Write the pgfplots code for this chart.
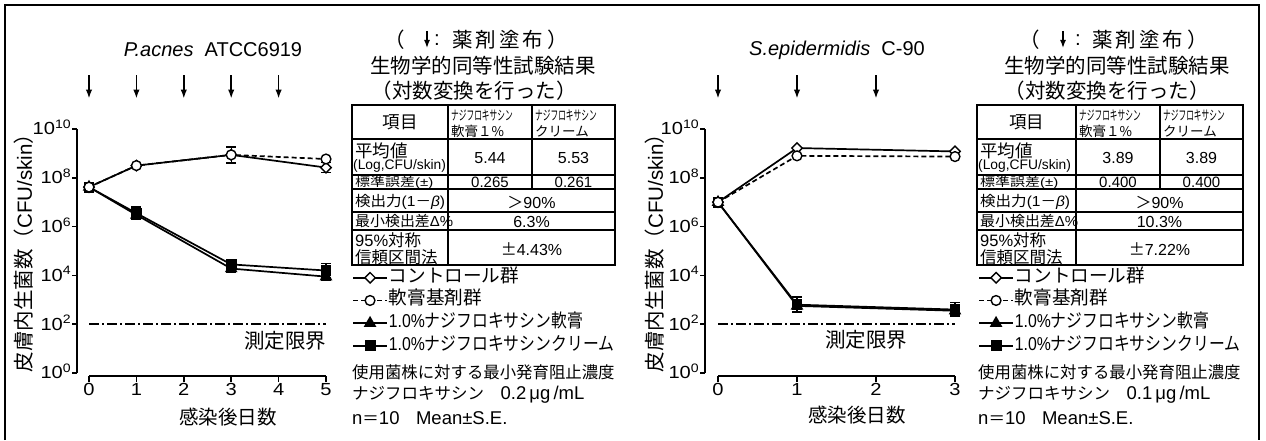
\documentclass[border=0pt]{standalone}
\usepackage{fontspec}
\usepackage{graphicx}
\usepackage{pgfplots}
\pgfplotsset{compat=1.18}
\usetikzlibrary{arrows.meta}
\setmainfont{Liberation Sans}
\newfontfamily\jp{Noto Sans CJK JP}
\newcommand\fs[1]{\fontsize{#1pt}{#1pt}\selectfont}
\newcommand\J[1]{{\jp #1}}
\newcommand\W[1]{\scalebox{1.15}[1]{#1}}

\pgfplotsset{
  ctrl/.style={black, solid, line width=1.7pt, mark=square*, mark size=3.7pt,
     mark options={rotate=45, fill=white, draw=black, solid, line width=1.4pt}},
  base/.style={black, line width=1.7pt, dash pattern=on 5pt off 3pt, mark=*, mark size=4.9pt,
     mark options={fill=white, draw=black, solid, line width=1.4pt}},
  oint/.style={black, solid, line width=1.7pt, mark=triangle*, mark size=5.6pt, mark options={solid}},
  crem/.style={black, solid, line width=1.7pt, mark=square*, mark size=4.6pt, mark options={solid}},
  ebar/.style={error bars/.cd, y dir=both, y explicit,
     error bar style={line width=1.4pt, solid},
     error mark options={rotate=90, mark size=5pt, line width=1.4pt, solid}},
  lim/.style={black, line width=1.5pt, dash pattern=on 10pt off 3pt on 2pt off 3pt, mark=none},
  arr/.style={black, solid, line width=1.5pt, -{Latex[length=9pt,width=6.5pt]}, mark=none},
  dataaxis/.style={scale only axis, clip=false, height=244pt, ymin=0, ymax=10,
     axis x line=none, xtick=\empty, axis y line=left, axis line style={-, line width=1.6pt},
     ytick={0,2,...,10},
     yticklabels={\W{10\textsuperscript{0}},\W{10\textsuperscript{2}},\W{10\textsuperscript{4}},\W{10\textsuperscript{6}},\W{10\textsuperscript{8}},\W{10\textsuperscript{10}}},
     tick style={line width=1.6pt, black}, tick align=outside, major tick length=5pt,
     yticklabel style={font=\fs{17.5}, inner sep=0.5pt, yshift=1.5pt},
     legend cell align=left,
     legend image code/.code={\draw[mark repeat=2,mark phase=2] plot coordinates {(0pt,0pt)(17pt,0pt)(34pt,0pt)};},
     legend style={draw=none, fill=none, anchor=north west, font=\fs{18.6}, inner sep=0pt, row sep=3.7pt,
        nodes={inner sep=1pt, text height=13pt, text depth=4pt}},
  },
  xaxisB/.style={scale only axis, height=10pt, ymin=0, ymax=1, axis x line=bottom, axis y line=none,
     axis line style={-, line width=1.6pt}, tick style={line width=1.6pt, black}, tick align=outside,
     major tick length=6pt, xticklabel style={font=\fs{17.5}, inner sep=1pt},
     /pgf/number format/assume math mode=true},
}

\newcommand\tgrid[4]{%
  \draw[line width=1.4pt] (#1,105) rectangle (#4,265);
  \foreach \r in {139,175,189,212,230} {\draw[line width=1.1pt] (#1,\r) -- (#4,\r);}
  \draw[line width=1.1pt] (#2,105) -- (#2,265);
  \draw[line width=1.1pt] (#3,105) -- (#3,189);
  \node[font=\fs{17.5}\jp] at ({(#1+#2)/2},122) {項目};
  \node[anchor=west, inner sep=0pt, font=\fs{13.5}\jp] at ({#2+3},115) {\scalebox{0.57}[1]{ナジフロキサシン}};
  \node[anchor=west, inner sep=0pt, font=\fs{13.5}\jp] at ({#2+3},131.5) {軟膏１\%};
  \node[anchor=west, inner sep=0pt, font=\fs{13.5}\jp] at ({#3+3},115) {\scalebox{0.57}[1]{ナジフロキサシン}};
  \node[anchor=west, inner sep=0pt, font=\fs{13.5}\jp] at ({#3+3},131.5) {クリーム};
  \node[anchor=west, inner sep=0pt, font=\fs{17.5}\jp] at ({#1+3},151) {平均値};
  \node[anchor=west, inner sep=0pt, font=\fs{13.8}] at ({#1+1},165.5) {(Log,CFU/skin)};
  \node[anchor=west, inner sep=0pt, font=\fs{12}] at ({#1+3},182.5) {\scalebox{1.25}[1]{\J{標準誤差}(±)}};
  \node[anchor=west, inner sep=0pt, font=\fs{14.5}] at ({#1+3},201.5) {\scalebox{1.07}[1]{\J{検出力}(1\J{－}\textit{β})}};
  \node[anchor=west, inner sep=0pt, font=\fs{14.5}] at ({#1+3},221.5) {\scalebox{1.03}[1]{\J{最小検出差}Δ\%}};
  \node[anchor=west, inner sep=0pt, font=\fs{16.5}] at ({#1+3},240) {95\%\J{対称}};
  \node[anchor=west, inner sep=0pt, font=\fs{16.5}\jp] at ({#1+3},257) {信頼区間法};
}
\newcommand\tvals[9]{%
  \node[font=\fs{16}] at (#1,158) {#4};
  \node[font=\fs{16}] at (#2,158) {#5};
  \node[font=\fs{15}] at (#1,182.5) {#6};
  \node[font=\fs{15}] at (#2,182.5) {#7};
  \node[font=\fs{16}] at (#3,202.5) {\J{＞}90\%};
  \node[font=\fs{16}] at (#3,221.5) {#8};
  \node[font=\fs{16}] at (#3,249) {\J{±}#9};
}
% #1 paren box start, #2 arrow x, #3 colon centre, #4 start of 薬
\newcommand\yakutitle[4]{%
  \node[anchor=west, inner sep=0pt, font=\fs{20.5}\jp] at (#1,40) {（};
  \draw[line width=1.4pt, -{Latex[length=8pt,width=6pt]}] (#2,31) -- (#2,48);
  \node[inner sep=0pt, font=\fs{20.5}] at (#3,40) {:};
  \node[anchor=west, inner sep=0pt, font=\fs{20.5}\jp] at (#4,40) {薬\hspace{3pt}剤\hspace{3pt}塗\hspace{3pt}布\hspace{4pt}）};
}

\begin{document}
\begin{tikzpicture}
\fill[white] (0,0) rectangle (1266pt,440pt);

% ---------------- left panel ----------------
\begin{axis}[dataaxis, at={(77pt,67pt)}, anchor=south west, width=249pt, xmin=-0.2532, xmax=5,
   legend style={at={(1.1044,0.430)}}]
\addplot[arr, forget plot, quiver={u=0,v=-0.95}] coordinates {(0,12.2)(1,12.2)(2,12.2)(3,12.2)(4,12.2)};
\addplot[lim, forget plot] coordinates {(0,2)(5,2)};
\addplot[crem, forget plot, ebar] coordinates {(0,7.62) (1,6.55) +- (0,0.25) (3,4.45) +- (0,0.2) (5,4.2) +- (0,0.3)};
\addplot[oint, forget plot, ebar] coordinates {(0,7.62) (1,6.48) +- (0,0.2) (3,4.28) +- (0,0.15) (5,3.95) +- (0,0.15)};
\addplot[ctrl, forget plot, ebar] coordinates {(0,7.62) (1,8.5) (3,8.94) +- (0,0.33) (5,8.42) +- (0,0.2)};
\addplot[base, forget plot] coordinates {(0,7.62) (1,8.5) (3,8.94) (5,8.77)};
\addlegendimage{ctrl}\addlegendentry{\J{コントロール群}}
\addlegendimage{base}\addlegendentry{\J{軟膏基剤群}}
\addlegendimage{oint}\addlegendentry{\scalebox{0.85}[1]{1.0\%\J{ナジフロキサシン軟膏}}}
\addlegendimage{crem}\addlegendentry{\scalebox{0.85}[1]{1.0\%\J{ナジフロキサシンクリーム}}}
\end{axis}
\begin{axis}[xaxisB, at={(89pt,64pt)}, anchor=south west, width=237pt, xmin=0, xmax=5, xtick={0,...,5},
   xticklabels={\W{0},\W{1},\W{2},\W{3},\W{4},\W{5}}]
\addplot[draw=none] coordinates {(0,0.5)};
\end{axis}

% ---------------- right panel ----------------
\begin{axis}[dataaxis, at={(705pt,67pt)}, anchor=south west, width=250pt, xmin=-0.1646, xmax=3,
   legend style={at={(1.092,0.430)}}]
\addplot[arr, forget plot, quiver={u=0,v=-0.95}] coordinates {(0,12.2)(1,12.2)(2,12.2)};
\addplot[lim, forget plot] coordinates {(0,2)(3,2)};
\addplot[crem, forget plot, ebar] coordinates {(0,7.0) (1,2.8) +- (0,0.32) (3,2.6) +- (0,0.28)};
\addplot[oint, forget plot, ebar] coordinates {(0,7.0) (1,2.75) +- (0,0.25) (3,2.55) +- (0,0.2)};
\addplot[ctrl, forget plot] coordinates {(0,7.0) (1,9.22) (3,9.08)};
\addplot[base, forget plot] coordinates {(0,7.0) (1,8.9) (3,8.87)};
\addlegendimage{ctrl}\addlegendentry{\J{コントロール群}}
\addlegendimage{base}\addlegendentry{\J{軟膏基剤群}}
\addlegendimage{oint}\addlegendentry{\scalebox{0.85}[1]{1.0\%\J{ナジフロキサシン軟膏}}}
\addlegendimage{crem}\addlegendentry{\scalebox{0.85}[1]{1.0\%\J{ナジフロキサシンクリーム}}}
\end{axis}
\begin{axis}[xaxisB, at={(718pt,64pt)}, anchor=south west, width=237pt, xmin=0, xmax=3, xtick={0,...,3},
   xticklabels={\W{0},\W{1},\W{2},\W{3}}]
\addplot[draw=none] coordinates {(0,0.5)};
\end{axis}

% ---------------- texts, tables (pixel coordinates, y down) ----------------
\begin{scope}[x=1pt, y=-1pt, yshift=440pt]
\draw[line width=1.5pt] (5,440) -- (5,5) -- (1259,5) -- (1259,440);
% left panel texts
\node[font=\fs{20}] at (213,50) {\textit{P.acnes}\ \ ATCC6919};
\node[font=\fs{20.5}, rotate=90] at (24,248) {\J{皮膚内生菌数（}CFU/skin\J{）}};
\node[font=\fs{19.5}\jp] at (228,417) {感染後日数};
\node[font=\fs{20.5}\jp] at (285,341) {測定限界};
\yakutitle{384}{427}{437}{452}
\node[font=\fs{20.5}\jp] at (483,66) {生物学的同等性試験結果};
\node[font=\fs{20.5}\jp] at (474,91) {（対数変換を行った）};
\tgrid{352}{448}{532}{615}
\tvals{490}{573.5}{531.5}{5.44}{5.53}{0.265}{0.261}{6.3\%}{4.43\%}
\node[anchor=west, inner sep=0pt, font=\fs{16.4}\jp] at (352,372) {使用菌株に対する最小発育阻止濃度};
\node[anchor=west, inner sep=0pt, font=\fs{18.5}] at (352,395) {{\fs{16.5}\jp ナジフロキサシン　}0.2\,μg\,/mL};
\node[anchor=west, inner sep=0pt, font=\fs{18.5}] at (352,418) {n{\fs{16.5}\jp ＝}10{\fs{16.5}\jp 　}Mean±S.E.};
% right panel texts
\node[font=\fs{20}] at (837,50) {\textit{S.epidermidis}\ \ C-90};
\node[font=\fs{20.5}, rotate=90] at (655,248) {\J{皮膚内生菌数（}CFU/skin\J{）}};
\node[font=\fs{19.5}\jp] at (857,415) {感染後日数};
\node[font=\fs{20.5}\jp] at (866,340) {測定限界};
\yakutitle{1019}{1063}{1078}{1092}
\node[font=\fs{20.5}\jp] at (1117,66) {生物学的同等性試験結果};
\node[font=\fs{20.5}\jp] at (1107,91) {（対数変換を行った）};
\tgrid{977}{1076}{1160}{1243}
\tvals{1118}{1201.5}{1159.5}{3.89}{3.89}{0.400}{0.400}{10.3\%}{7.22\%}
\node[anchor=west, inner sep=0pt, font=\fs{16.4}\jp] at (978,372) {使用菌株に対する最小発育阻止濃度};
\node[anchor=west, inner sep=0pt, font=\fs{18.5}] at (978,395) {{\fs{16.5}\jp ナジフロキサシン　}0.1\,μg\,/mL};
\node[anchor=west, inner sep=0pt, font=\fs{18.5}] at (978,418) {n{\fs{16.5}\jp ＝}10{\fs{16.5}\jp 　}Mean±S.E.};
\end{scope}
\pgfresetboundingbox
\path (0,0) rectangle (1266pt,440pt);
\end{tikzpicture}
\end{document}
